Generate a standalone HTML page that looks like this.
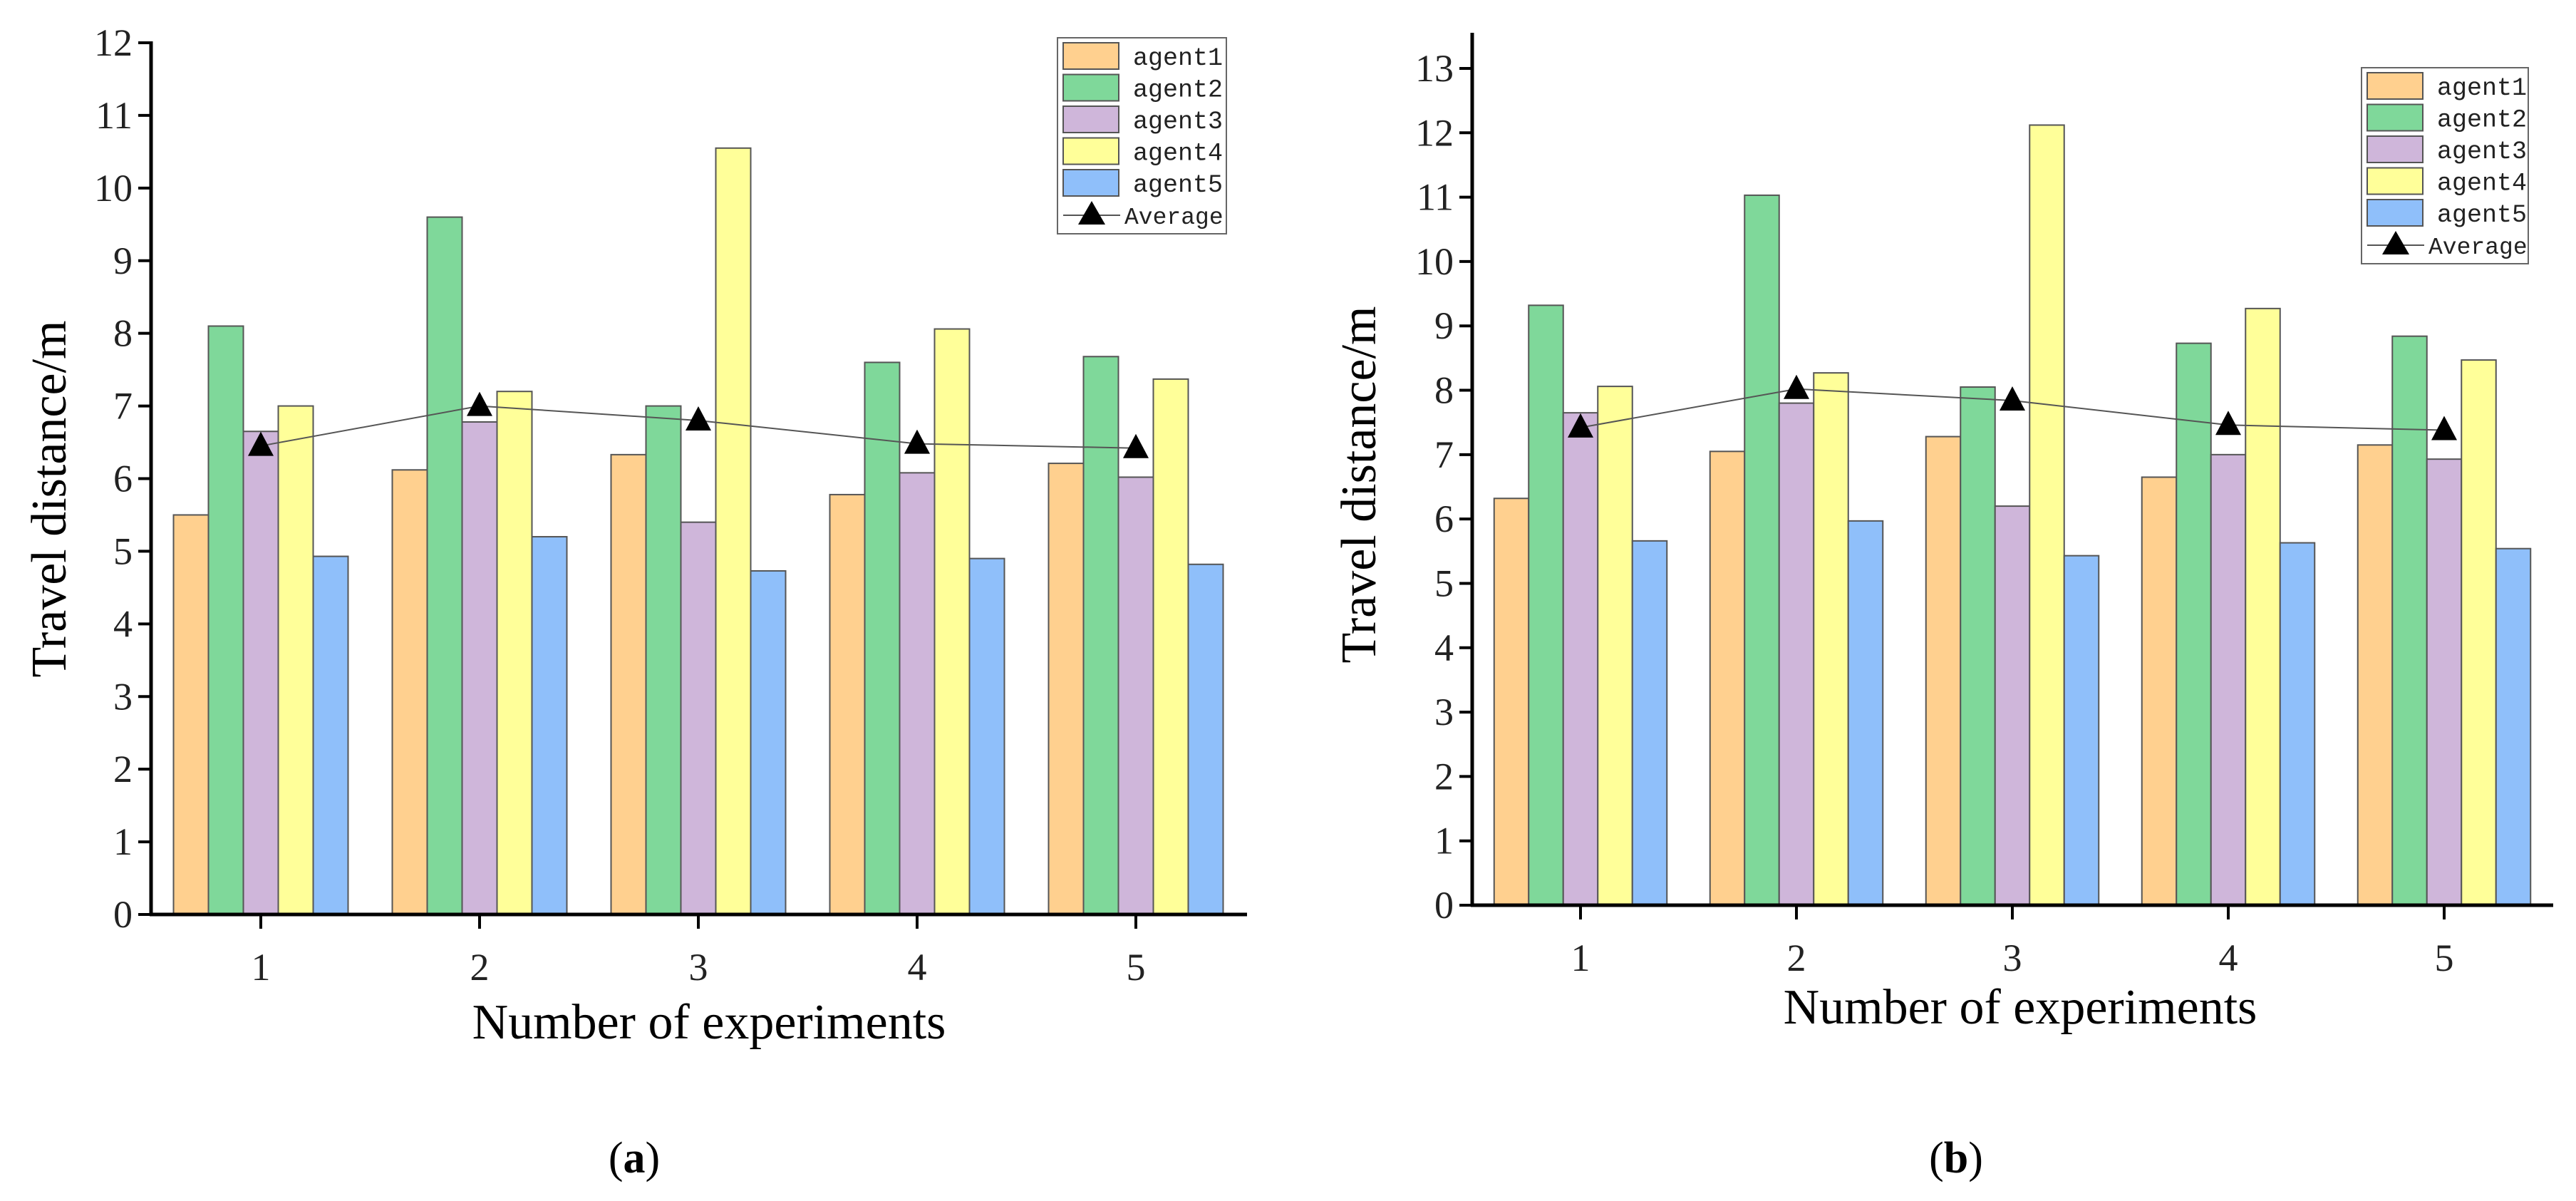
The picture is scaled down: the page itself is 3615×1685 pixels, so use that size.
<!DOCTYPE html>
<html><head><meta charset="utf-8">
<style>
html,body{margin:0;padding:0;background:#fff;}
svg{display:block;}
</style></head>
<body>
<svg id="fig" width="3615" height="1685" viewBox="0 0 3615 1685" xmlns="http://www.w3.org/2000/svg"></svg>
<script>
const categories = ["1","2","3","4","5"];
const seriesNames = ["agent1","agent2","agent3","agent4","agent5"];
const aAgent1 = [5.5,6.12,6.33,5.78,6.21];
const aAgent2 = [8.1,9.6,7.0,7.6,7.68];
const aAgent3 = [6.65,6.78,5.4,6.08,6.02];
const aAgent4 = [7.0,7.2,10.55,8.06,7.37];
const aAgent5 = [4.93,5.2,4.73,4.9,4.82];
const aAverage = [6.45,7.0,6.8,6.48,6.42];
const bAgent1 = [6.32,7.05,7.28,6.65,7.15];
const bAgent2 = [9.32,11.03,8.05,8.73,8.84];
const bAgent3 = [7.65,7.8,6.2,7.0,6.93];
const bAgent4 = [8.06,8.27,12.12,9.27,8.47];
const bAgent5 = [5.66,5.97,5.43,5.63,5.54];
const bAverage = [7.42,8.02,7.84,7.46,7.38];
const aTicks = [0,1,2,3,4,5,6,7,8,9,10,11,12];
const bTicks = [0,1,2,3,4,5,6,7,8,9,10,11,12,13];

const colors = ["#FFD08F","#7FD89A","#CFB6DA","#FFFF99","#8FBFFA"];
const NS = "http://www.w3.org/2000/svg";
const svg = document.getElementById('fig');
function mk(tag, attrs, parent){
  const e = document.createElementNS(NS, tag);
  for (const k in attrs) e.setAttribute(k, attrs[k]);
  (parent||svg).appendChild(e);
  return e;
}
function drawChart(cfg){
  const g = mk('g', {});
  
  
  const yMax = cfg.ticks[cfg.ticks.length-1];
  const y = v => cfg.y0 - (v/yMax)*(cfg.y0 - cfg.yTop);
  const x = i => cfg.x1 + i*cfg.step;
  const bw = cfg.bw;
  cfg.series.forEach((arr, s) => {
    arr.forEach((v, i) => {
      const r = mk('rect', {x: x(i) - 2.5*bw + s*bw, y: y(v), width: bw, height: cfg.y0 - y(v), fill: colors[s], stroke: '#555', 'stroke-width': 2}, g);
      
      
    });
  });
  const pts = cfg.avg.map((v,i) => x(i) + ',' + y(v)).join(' ');
  const pl = mk('polyline', {points: pts, fill: 'none', stroke: '#555', 'stroke-width': 2}, g);
  
  
  cfg.avg.forEach((v,i) => {
    const cx = x(i), cy = y(v);
    const t = mk('polygon', {points: `${cx},${cy-20} ${cx-18},${cy+14} ${cx+18},${cy+14}`, fill: '#000'}, g);
    
    
  });
  const ya = mk('line', {x1: cfg.ax, y1: cfg.axTop, x2: cfg.ax, y2: cfg.y0 + 2, stroke: '#000', 'stroke-width': 5}, g);
  
  
  const xa = mk('line', {x1: cfg.ax - 2, y1: cfg.y0, x2: cfg.xEnd, y2: cfg.y0, stroke: '#000', 'stroke-width': 5}, g);
  
  
  cfg.ticks.forEach(t => {
    mk('line', {x1: cfg.ax - 18, y1: y(t), x2: cfg.ax, y2: y(t), stroke: '#000', 'stroke-width': 4}, g);
    const tx = mk('text', {x: cfg.ax - 26, y: y(t) + 18, 'text-anchor': 'end', 'font-family': 'Liberation Serif, serif', 'font-size': 54, fill: '#222'}, g);
    tx.textContent = t;
    
    
  });
  categories.forEach((c,i) => {
    mk('line', {x1: x(i), y1: cfg.y0, x2: x(i), y2: cfg.y0 + 20, stroke: '#000', 'stroke-width': 4}, g);
    const tx = mk('text', {x: x(i), y: cfg.y0 + 92, 'text-anchor': 'middle', 'font-family': 'Liberation Serif, serif', 'font-size': 54, fill: '#222'}, g);
    tx.textContent = c;
    
    
  });
  const xt = mk('text', {x: cfg.xtx, y: cfg.xty, 'text-anchor': 'middle', 'font-family': 'Liberation Serif, serif', 'font-size': 70, fill: '#000'}, g);
  xt.textContent = 'Number of experiments';
  
  
  const yt = mk('text', {x: 0, y: 0, transform: `translate(${cfg.ytx},${cfg.yty}) rotate(-90)`, 'text-anchor': 'middle', 'font-family': 'Liberation Serif, serif', 'font-size': 70, fill: '#000'}, g);
  yt.textContent = 'Travel distance/m';
  
  
  const L = cfg.leg;
  const lg = mk('g', {}, g);
  
  
  mk('rect', {x: L.x, y: L.y, width: L.w, height: L.h, fill: '#fff', stroke: '#666', 'stroke-width': 2}, lg);
  seriesNames.forEach((n,s) => {
    const ry = L.y + 7 + s*44.5;
    const sw = mk('rect', {x: L.x + 8, y: ry, width: 78, height: 37, fill: colors[s], stroke: '#555', 'stroke-width': 2}, lg);
    
    
    const tx = mk('text', {x: L.x + 106, y: ry + 31, 'font-family': 'Liberation Mono, monospace', 'font-size': 35, fill: '#222'}, lg);
    tx.textContent = n;
    
    
  });
  const ay = L.y + 249;
  mk('line', {x1: L.x + 8, y1: ay, x2: L.x + 88, y2: ay, stroke: '#555', 'stroke-width': 2}, lg);
  mk('polygon', {points: `${L.x+48},${ay-20} ${L.x+29},${ay+13} ${L.x+67},${ay+13}`, fill: '#000'}, lg);
  const at = mk('text', {x: L.x + 94, y: ay + 12, 'font-family': 'Liberation Mono, monospace', 'font-size': 33, fill: '#222'}, lg);
  at.textContent = 'Average';
  
  
  const cap = mk('text', {x: cfg.capx, y: 1645, 'text-anchor': 'middle', 'font-family': 'Liberation Serif, serif', 'font-size': 62, fill: '#000'}, g);
  cap.innerHTML = '(<tspan font-weight="bold">' + cfg.cap + '</tspan>)';
  
  
}
drawChart({name:'chart-a', series:[aAgent1,aAgent2,aAgent3,aAgent4,aAgent5], avg:aAverage, ticks:aTicks,
  ax:212, axTop:58, y0:1283, yTop:60, xEnd:1750, x1:366, step:307, bw:49,
  xtx:995, xty:1457, ytx:92, yty:700, leg:{x:1484,y:53,w:237,h:275}, capx:890, cap:'a'});
drawChart({name:'chart-b', series:[bAgent1,bAgent2,bAgent3,bAgent4,bAgent5], avg:bAverage, ticks:bTicks,
  ax:2066, axTop:46, y0:1270, yTop:96, xEnd:3583, x1:2218, step:303, bw:48.5,
  xtx:2835, xty:1436, ytx:1930, yty:680, leg:{x:3314,y:95,w:234,h:275}, capx:2745, cap:'b'});
</script>
</body></html>
